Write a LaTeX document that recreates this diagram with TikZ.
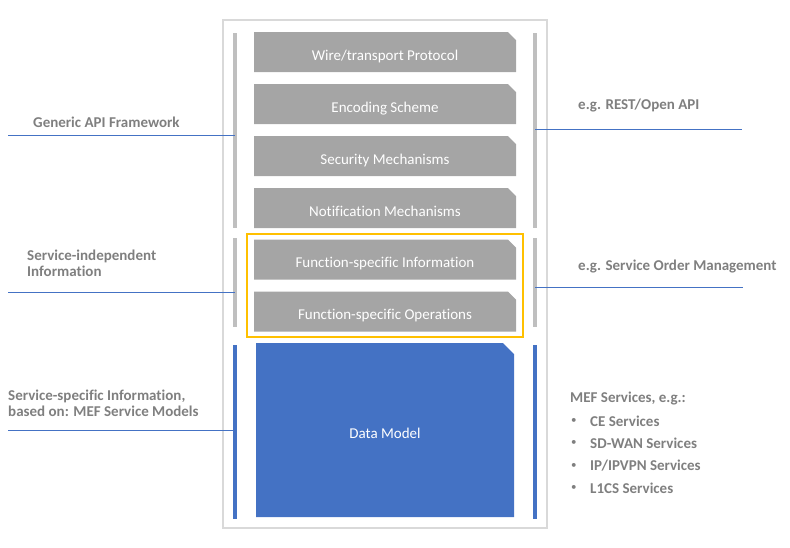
\documentclass[tikz,border=0pt]{standalone}
\usepackage{fontspec}
\setmainfont{Carlito}[Ligatures=NoCommon]
\usetikzlibrary{positioning,shapes.misc}
\definecolor{layergray}{HTML}{A5A5A5}
\definecolor{modelblue}{HTML}{4472C4}
\definecolor{framegold}{HTML}{FFC000}
\definecolor{bargray}{HTML}{BFBFBF}
\definecolor{labelgray}{HTML}{7F7F7F}
\definecolor{framegray}{HTML}{D9D9D9}

\begin{document}
\begin{tikzpicture}[x=1pt,y=-1pt,font=\fontsize{15}{18}\selectfont]
  \tikzstyle{layer}=[chamfered rectangle,chamfered rectangle corners=north east,
    chamfered rectangle xsep=5pt,fill=layergray,draw=none,text=white,
    minimum width=262pt,minimum height=40pt,inner sep=0pt,
    text height=16pt,text depth=0pt]
  \tikzstyle{bar}=[rectangle,fill=bargray,draw=none,minimum width=4pt,inner sep=0pt]
  \tikzstyle{bluebar}=[bar,fill=modelblue]
  \tikzstyle{lbl}=[anchor=west,inner sep=0pt,align=left,text=labelgray,
    font=\fontsize{15}{16}\selectfont\bfseries]
  \tikzstyle{link}=[modelblue,line width=1pt]

  \useasboundingbox (0,0) rectangle (790,547);

  % outer frame
  \draw [framegray,line width=1.2pt] (223,20) rectangle (547,528);

  % stack of layers
  \node [layer] (wire) at (385,52) {Wire/transport Protocol};
  \node [layer] (enc) at (385,104) {Encoding Scheme};
  \node [layer] (sec) at (385,156) {Security Mechanisms};
  \node [layer] (notif) at (385,208) {Notification Mechanisms};
  \node [layer] (finfo) at (385,259.5) {Function-specific Information};
  \node [layer] (fops) at (385,311.5) {Function-specific Operations};
  \node [layer,fill=modelblue,minimum width=258pt,minimum height=174pt,
    chamfered rectangle xsep=8pt] (model) at (385,430) {Data Model};

  % the yellow frame
  \draw [framegold,line width=1.2pt] (247,234) rectangle (523,337);

  % bars on both sides
  \node [bar,minimum height=195pt] (lbar1) at (235,130.5) {};
  \node [bar,minimum height=89pt] (lbar2) at (235,282.5) {};
  \node [bluebar,minimum height=174pt] (lbar3) at (235,432) {};
  \node [bar,minimum height=195pt] (rbar1) at (535,130.5) {};
  \node [bar,minimum height=89pt] (rbar2) at (535,282.5) {};
  \node [bluebar,minimum height=174pt] (rbar3) at (535,432) {};

  % labels on left
  \node [lbl] (gaf) at (33,122) {Generic API Framework};
  \node [lbl] (sii) at (27,263) {Service-independent\\Information};
  \node [lbl] (ssi) at (8,403) {Service-specific Information,\\based on: MEF Service Models};
  \coordinate (gafend) at (8,135);
  \coordinate (siiend) at (8,292);
  \coordinate (ssiend) at (8,430);
  \draw [link] (gafend) -- (gafend -| lbar1.center);
  \draw [link] (siiend) -- (siiend -| lbar2.center);
  \draw [link] (ssiend) -- (ssiend -| lbar3.center);

  % labels on right
  \node [lbl] (rest) at (578,106) {e.g. REST/Open API};
  \node [lbl] (som) at (578,267) {e.g. Service Order Management};
  \coordinate (restend) at (742,129);
  \coordinate (somend) at (743,287);
  \draw [link] (restend -| rbar1.center) -- (restend);
  \draw [link] (somend -| rbar2.center) -- (somend);

  % MEF services list
  \node [lbl] (mef) at (570,399) {MEF Services, e.g.:};
  \foreach \name/\y/\txt in {ce/421/{CE Services},sdwan/443/{SD-WAN Services},
      ipvpn/466/{IP/IPVPN Services},lics/488/{L1CS Services}} {
    \node [lbl,font=\fontsize{11}{12}\selectfont] (\name-dot) at (571,\y) {\textbullet};
    \node [lbl] (\name) at (590,\y) {\txt};
  }
\end{tikzpicture}
\end{document}
